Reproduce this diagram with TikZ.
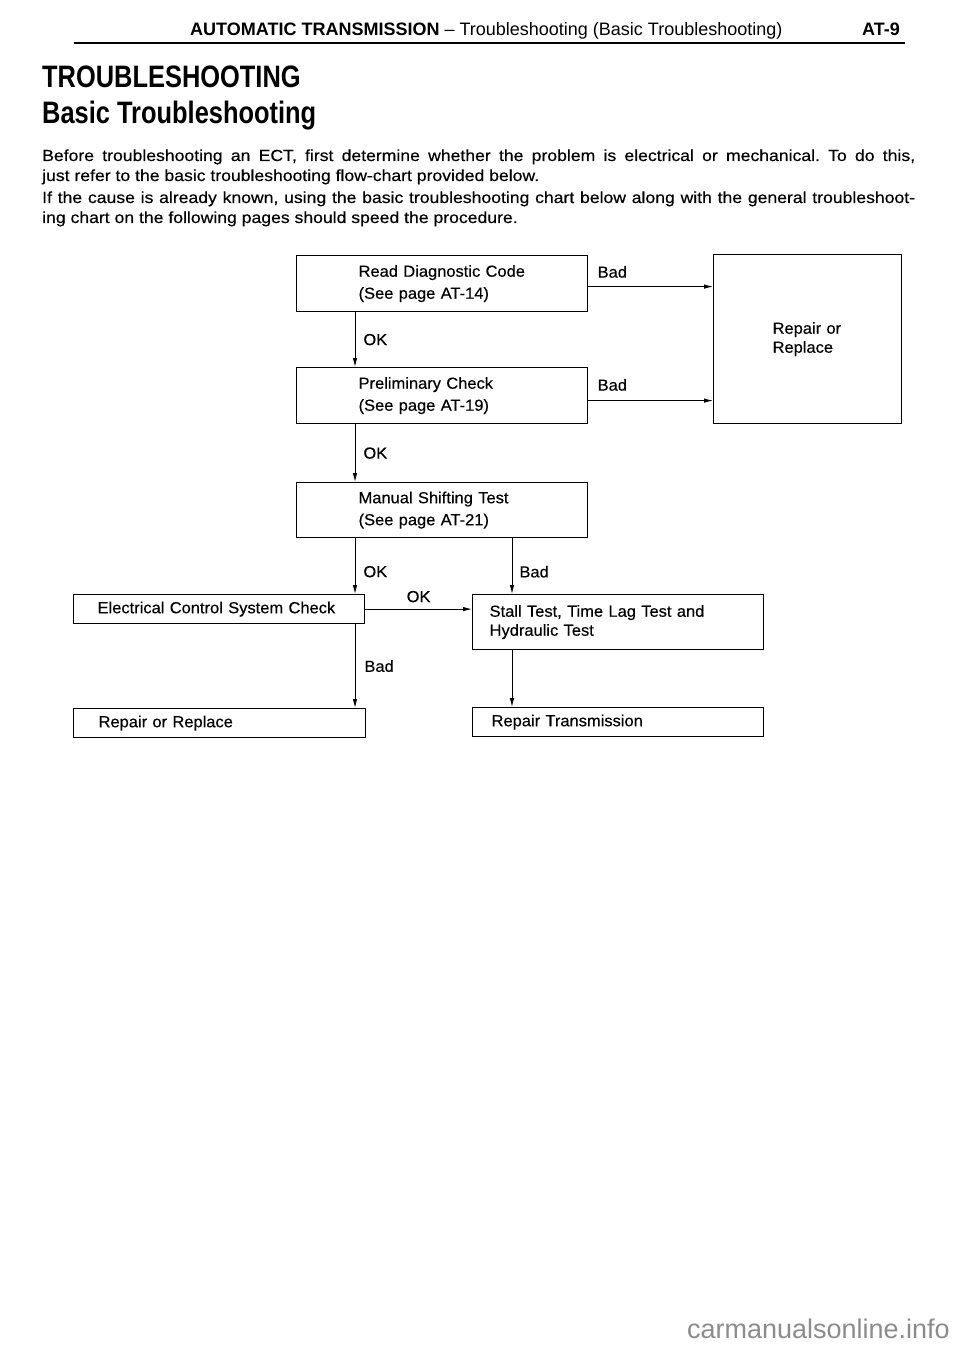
\documentclass[tikz,border=0pt]{standalone}
\usepackage{fontspec}
\setmainfont{Liberation Sans}[FakeStretch=1.1, FakeBold=0.3]
\newfontfamily\headfont{Liberation Sans}
\newfontfamily\titlefont{Liberation Sans}[FakeStretch=0.82]
\newfontfamily\boxfont{Liberation Sans}[FakeStretch=1.03, FakeBold=0.3]
\frenchspacing
\usetikzlibrary{arrows.meta}

\begin{document}
\begin{tikzpicture}[x=1pt, y=-1pt,
  box/.style={draw, line width=1.2pt, anchor=north west, align=left, inner ysep=0pt, font=\boxfont\fontsize{16}{22}\selectfont},
  arr/.style={line width=0.9pt, -{Latex[length=9pt, width=4.5pt]}},
  lbl/.style={inner sep=0pt, font=\boxfont\fontsize{16}{18}\selectfont},
  txt/.style={anchor=base west, inner sep=0pt, font=\fontsize{16}{22}\selectfont}]
\useasboundingbox[fill=white] (0,0) rectangle (960,1356);

\node[anchor=base west, inner sep=0pt, font=\headfont\fontsize{18}{20}\selectfont] (hd) at (190,36) {\textbf{AUTOMATIC TRANSMISSION} – Troubleshooting (Basic Troubleshooting)};
\node[anchor=base east, inner sep=0pt, font=\headfont\bfseries\fontsize{18}{20}\selectfont] (pg) at (900,36) {AT-9};
\coordinate (rl) at (74,43);
\coordinate (rr) at (905,43);
\draw[line width=2.5pt] (rl) -- (rr);

\node[anchor=base west, inner sep=0pt, font=\titlefont\bfseries\fontsize{31}{33}\selectfont] (t1) at (42,88) {TROUBLESHOOTING};
\node[anchor=base west, inner sep=0pt, font=\titlefont\bfseries\fontsize{31}{33}\selectfont] (t2) at (42,124) {Basic Troubleshooting};

\node[txt] (p1) at (42,161) {\makebox[873pt][s]{Before troubleshooting an ECT, first determine whether the problem is electrical or mechanical. To do this,}};
\node[txt] (p2) at (42,181) {just refer to the basic troubleshooting flow-chart provided below.};
\node[txt] (p3) at (42,203) {\makebox[873pt][s]{If the cause is already known, using the basic troubleshooting chart below along with the general troubleshoot-}};
\node[txt] (p4) at (42,223) {ing chart on the following pages should speed the procedure.};

\node[box, text width=167pt, inner xsep=62pt, minimum height=56pt] (b1) at (296,255) {\mbox{Read Diagnostic Code}\\\mbox{(See page AT-14)}};
\node[box, text width=167pt, inner xsep=62pt, minimum height=56pt] (b2) at (296,367) {\mbox{Preliminary Check}\\\mbox{(See page AT-19)}};
\node[box, text width=167pt, inner xsep=62pt, minimum height=55pt] (b3) at (296,482) {\mbox{Manual Shifting Test}\\\mbox{(See page AT-21)}};
\node[box, text width=70pt, inner xsep=59pt, minimum height=169pt, font=\boxfont\fontsize{16}{19}\selectfont] (fix) at (713,254) {Repair or\\Replace};
\node[box, text width=243pt, inner xsep=24pt, minimum height=29pt] (elec) at (73,594) {Electrical Control System Check};
\node[box, text width=257pt, inner xsep=17pt, minimum height=55pt, font=\boxfont\fontsize{16}{19}\selectfont] (stall) at (472,594) {Stall Test, Time Lag Test and\\Hydraulic Test};
\node[box, text width=242pt, inner xsep=25pt, minimum height=29pt] (rep) at (73,708) {Repair or Replace};
\node[box, text width=253pt, inner xsep=19pt, minimum height=29pt] (trans) at (472,707) {Repair Transmission};

\coordinate (ca) at (355,0);
\coordinate (cb) at (512,0);
\coordinate (e1) at ([yshift=-3pt]b1.east);
\coordinate (e2) at ([yshift=-5pt]b2.east);

\draw[arr] (e1) -- (e1 -| fix.west) node[lbl, pos=0, anchor=base west, xshift=9pt, yshift=9pt]{Bad};
\draw[arr] (e2) -- (e2 -| fix.west) node[lbl, pos=0, anchor=base west, xshift=9pt, yshift=10pt]{Bad};
\draw[arr] (b1.south -| ca) -- (b2.north -| ca) node[lbl, midway, anchor=west, xshift=8pt]{OK};
\draw[arr] (b2.south -| ca) -- (b3.north -| ca) node[lbl, midway, anchor=west, xshift=8pt]{OK};
\draw[arr] (b3.south -| ca) -- (elec.north -| ca) node[lbl, pos=.6, anchor=west, xshift=8pt]{OK};
\draw[arr] (b3.south -| cb) -- (stall.north -| cb) node[lbl, pos=.6, anchor=west, xshift=7pt]{Bad};
\draw[arr] (elec.east) -- (elec.east -| stall.west) node[lbl, midway, anchor=base, yshift=7pt]{OK};
\draw[arr] (elec.south -| ca) -- (rep.north -| ca) node[lbl, midway, anchor=west, xshift=9pt]{Bad};
\draw[arr] (stall.south -| cb) -- (trans.north -| cb);

\node[anchor=base east, inner sep=0pt, text=black!45, font=\headfont\fontsize{27}{30}\selectfont] (wm) at (950,1338) {carmanualsonline.info};
\end{tikzpicture}
\end{document}
